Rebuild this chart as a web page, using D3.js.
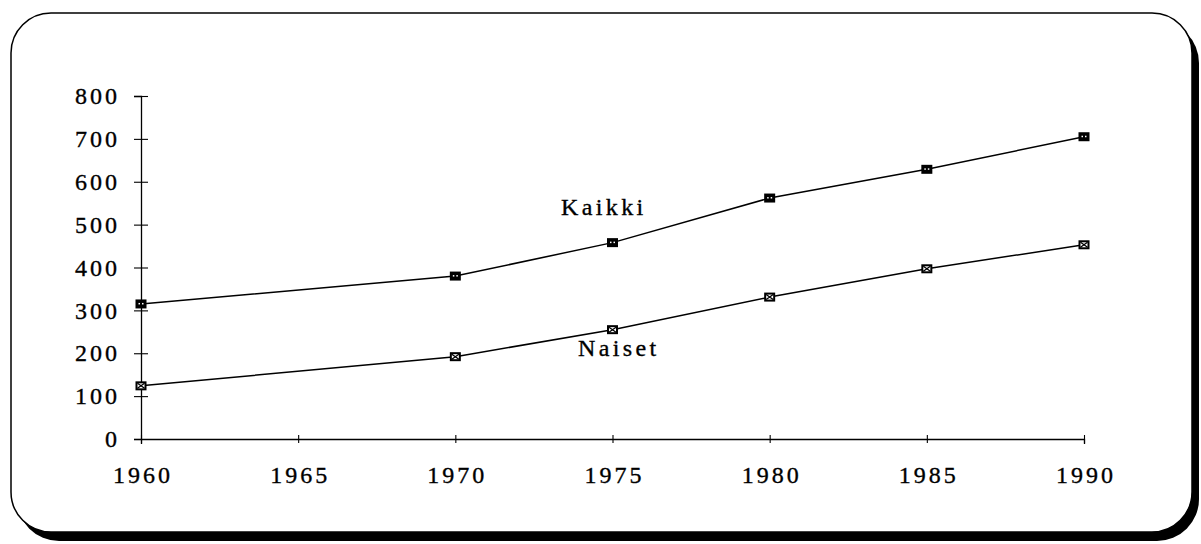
<!DOCTYPE html>
<meta charset="utf-8">
<html>
<script src="https://d3js.org/d3.v7.min.js"></script>
<style>
  body { margin: 0; background: #fff; }
  text { font-family: "Liberation Serif", "Times New Roman", Times, "DejaVu Serif", serif; }
</style>
<div id="chart"></div>
<script>

// data
var years   = [1960, 1970, 1975, 1980, 1985, 1990];
var kaikki  = [315, 380, 458, 562, 629, 705];
var naiset  = [124, 192, 255, 331, 397, 453];
var xTicks  = [1960, 1965, 1970, 1975, 1980, 1985, 1990];
var yTicks  = [0, 100, 200, 300, 400, 500, 600, 700, 800];
var seriesNames = ["Kaikki", "Naiset"];
// label anchor positions in data units
var labelYears  = [1973.36, 1973.9];
var labelValues = [522, 194];

var width = 1201,
    height = 544;
var serif = "Liberation Serif, Times New Roman, serif";

var svg = d3.select("#chart")
  .append("svg")
    .attr("width", width)
    .attr("height", height);

// frame with shadow
svg.append("rect")
    .attr("x", 17).attr("y", 21)
    .attr("width", 1182).attr("height", 520)
    .attr("rx", 42).attr("ry", 42)
    .attr("fill", "#000");
svg.append("rect")
    .attr("x", 11).attr("y", 13)
    .attr("width", 1181).attr("height", 519)
    .attr("rx", 40).attr("ry", 40)
    .attr("fill", "#fff")
    .attr("stroke", "#000")
    .attr("stroke-width", 1.5);

var x = d3.scaleLinear().domain([1960, 1990]).range([141, 1084]);
var y = d3.scaleLinear().domain([0, 800]).range([439, 96]);

// y axis
var yAxis = svg.append("g")
    .attr("transform", "translate(" + x(1960) + ",0)")
    .call(d3.axisLeft(y).tickValues(yTicks).tickSize(7).tickPadding(14).tickFormat(d3.format("d")));
yAxis.select(".domain").attr("stroke", "#000").attr("stroke-width", 1.3);
yAxis.selectAll(".tick line").attr("x1", -7).attr("x2", 7).attr("stroke-width", 1.1);
yAxis.selectAll(".tick").filter(function(d) { return d === 0; }).select("line").attr("x2", 0);
yAxis.selectAll(".tick text")
    .attr("font-size", "24px")
    .attr("letter-spacing", "3px")
    .attr("fill", "#000")
    .attr("stroke", "#000")
    .attr("stroke-width", 0.35)
    .attr("font-family", serif);

// x axis
var xAxis = svg.append("g")
    .attr("transform", "translate(0," + y(0) + ")")
    .call(d3.axisBottom(x).tickValues(xTicks).tickSize(5).tickFormat(d3.format("d")));
xAxis.select(".domain").attr("stroke", "#000").attr("stroke-width", 1.3);
xAxis.selectAll(".tick line").attr("y1", -4).attr("y2", 4).attr("stroke-width", 1.1);
xAxis.selectAll(".tick text")
    .attr("y", 44)
    .attr("dy", null)
    .attr("dx", "1.5px")
    .attr("font-size", "24px")
    .attr("letter-spacing", "3px")
    .attr("fill", "#000")
    .attr("stroke", "#000")
    .attr("stroke-width", 0.35)
    .attr("font-family", serif);

var line = d3.line()
    .x(function(d) { return x(d[0]); })
    .y(function(d) { return y(d[1]); });

var series = [kaikki, naiset].map(function(vals) {
  return years.map(function(yr, i) { return [yr, vals[i]]; });
});

series.forEach(function(pts, s) {
  svg.append("path")
      .datum(pts)
      .attr("d", line)
      .attr("fill", "none")
      .attr("stroke", "#000")
      .attr("stroke-width", 1.5);

  var m = svg.selectAll(".m" + s)
    .data(pts)
    .enter().append("g")
      .attr("class", "m" + s)
      .attr("transform", function(d) { return "translate(" + x(d[0]) + "," + y(d[1]) + ")"; });

  m.append("rect")
      .attr("x", -5.5).attr("y", -4.5)
      .attr("width", 11).attr("height", 9)
      .attr("fill", "#000");

  if (s === 0) {
    // solid marker with two small light dots
    m.append("rect").attr("x", -2.5).attr("y", -1).attr("width", 1.5).attr("height", 1.5).attr("fill", "#fff");
    m.append("rect").attr("x", 1).attr("y", -1).attr("width", 1.5).attr("height", 1.5).attr("fill", "#fff");
  } else {
    // hatched marker
    m.append("rect")
        .attr("x", -3.5).attr("y", -2.5)
        .attr("width", 7).attr("height", 5)
        .attr("fill", "#fff");
    m.append("path")
        .attr("d", "M-3.5,-2.5L3.5,2.5M3.5,-2.5L-3.5,2.5")
        .attr("stroke", "#000")
        .attr("stroke-width", 1.3);
  }
});

// series labels
svg.selectAll(".label")
  .data(seriesNames)
  .enter().append("text")
    .attr("class", "label")
    .attr("x", function(d, i) { return x(labelYears[i]); })
    .attr("y", function(d, i) { return y(labelValues[i]); })
    .attr("font-size", "24px")
    .attr("font-family", serif)
    .attr("letter-spacing", "3.4px")
    .attr("fill", "#000")
    .attr("stroke", "#000")
    .attr("stroke-width", 0.35)
    .text(function(d) { return d; });

</script>
</html>
